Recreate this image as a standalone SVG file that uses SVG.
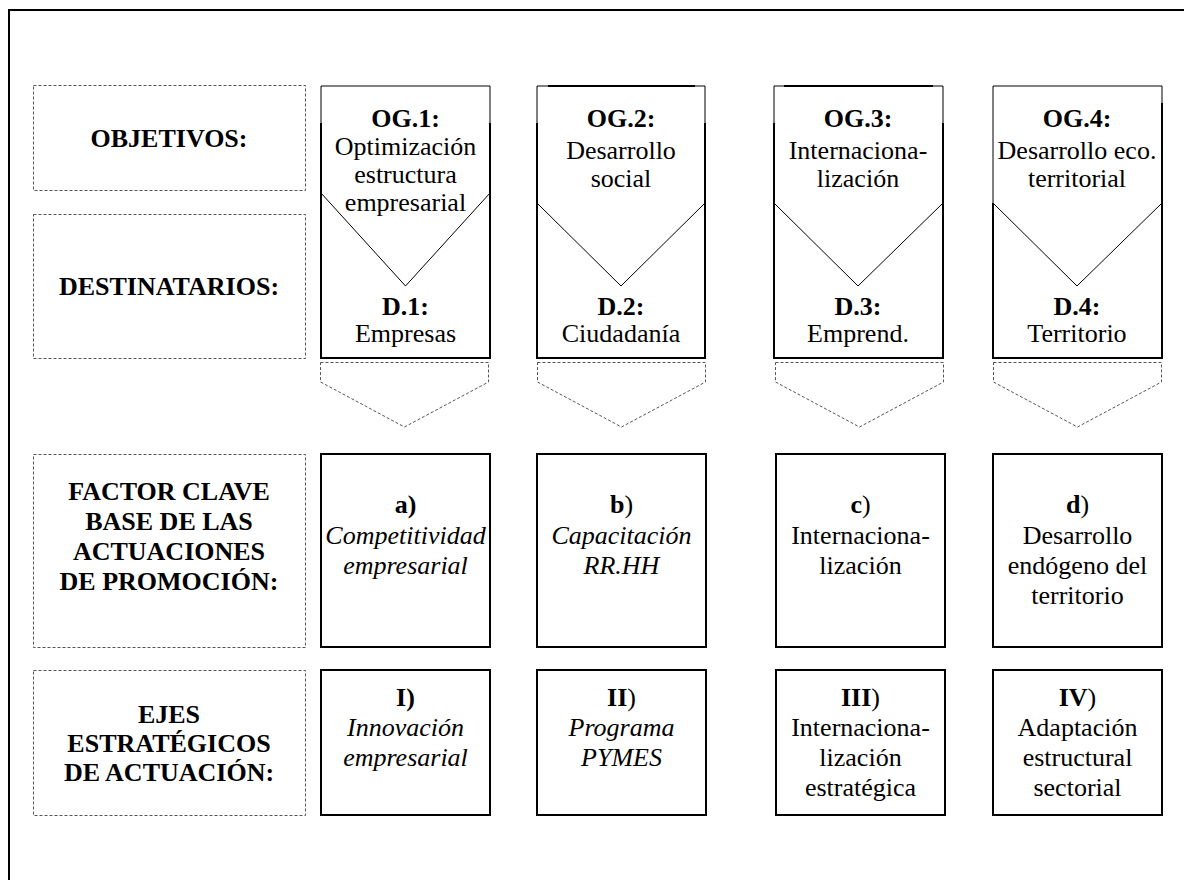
<svg xmlns="http://www.w3.org/2000/svg" width="1184" height="880" viewBox="0 0 1184 880" font-family="'Liberation Serif', 'Times New Roman', Tinos, 'DejaVu Serif', serif">
  <style>
    text { font-family: 'Liberation Serif', 'Times New Roman', Tinos, 'DejaVu Serif', serif; font-size: 26px; fill: #000; text-anchor: middle; }
    .b { font-weight: bold; }
    .i { font-style: italic; }
    .lbl { fill: none; stroke: #555; stroke-width: 1; stroke-dasharray: 3 2; }
    .box { fill: none; stroke: #000; stroke-width: 2; }
    .thin { fill: none; stroke: #000; stroke-width: 1; }
    .chev { fill: none; stroke: #555; stroke-width: 1; stroke-dasharray: 3 2; }
  </style>

  <rect x="0" y="0" width="1184" height="880" fill="#fff"/>
  <!-- page frame -->
  <rect x="9" y="10" width="1200" height="900" fill="none" stroke="#000" stroke-width="2"/>

  <!-- row labels -->
  <g id="label-objetivos">
    <rect class="lbl" x="33.5" y="85.5" width="272" height="105"/>
    <text class="b" x="169" y="147">OBJETIVOS:</text>
  </g>
  <g id="label-destinatarios">
    <rect class="lbl" x="33.5" y="214.5" width="272" height="144"/>
    <text class="b" x="169" y="295">DESTINATARIOS:</text>
  </g>
  <g id="label-factor">
    <rect class="lbl" x="33.5" y="454.5" width="272" height="193"/>
    <text class="b" x="169" y="500">FACTOR CLAVE</text>
    <text class="b" x="169" y="530">BASE DE LAS</text>
    <text class="b" x="169" y="560">ACTUACIONES</text>
    <text class="b" x="169" y="590">DE PROMOCIÓN:</text>
  </g>
  <g id="label-ejes">
    <rect class="lbl" x="33.5" y="670.5" width="272" height="145"/>
    <text class="b" x="169" y="723">EJES</text>
    <text class="b" x="169" y="752">ESTRATÉGICOS</text>
    <text class="b" x="169" y="781">DE ACTUACIÓN:</text>
  </g>

  <!-- objective / target columns -->
  <g id="col-1">
    <path class="box" d="M321,123 V358 H490 V123"/>
    <path class="thin" d="M321,86 H490 V193 L405.5,286 L321,193 Z"/>
    <text class="b" x="405.5" y="127">OG.1:</text>
    <text x="405.5" y="155">Optimización</text>
    <text x="405.5" y="183">estructura</text>
    <text x="405.5" y="211">empresarial</text>
    <text class="b" x="405.5" y="315">D.1:</text>
    <text x="405.5" y="342">Empresas</text>
  </g>
  <g id="col-2">
    <path class="box" d="M537,123 V358 H705 V123"/>
    <path class="thin" d="M537,86 H705 V203 L621,286 L537,203 Z"/>
    <path class="box" d="M548,86 H695"/>
    <text class="b" x="621" y="127">OG.2:</text>
    <text x="621" y="159">Desarrollo</text>
    <text x="621" y="187">social</text>
    <text class="b" x="621" y="315">D.2:</text>
    <text x="621" y="342">Ciudadanía</text>
  </g>
  <g id="col-3">
    <path class="box" d="M774,123 V358 H943 V123"/>
    <path class="thin" d="M774,86 H943 V203 L858,286 L774,203 Z"/>
    <path class="box" d="M784,86 H933"/>
    <text class="b" x="858" y="127">OG.3:</text>
    <text x="858" y="159">Internaciona-</text>
    <text x="858" y="187">lización</text>
    <text class="b" x="858" y="315">D.3:</text>
    <text x="858" y="342">Emprend.</text>
  </g>
  <g id="col-4">
    <path class="box" d="M993,203 V358 H1162 V103"/>
    <path class="thin" d="M993,86 H1162 V203 L1077,286 L993,203 Z"/>
    <text class="b" x="1077" y="127">OG.4:</text>
    <text x="1077" y="159">Desarrollo eco.</text>
    <text x="1077" y="187">territorial</text>
    <text class="b" x="1077" y="315">D.4:</text>
    <text x="1077" y="342">Territorio</text>
  </g>

  <!-- dashed downward arrows -->
  <g id="connectors">
    <path class="chev" d="M320.5,362.5 H488.5 V382 L404.5,427 L320.5,382 Z"/>
    <path class="chev" d="M537.5,362.5 H705.5 V382 L621.5,427 L537.5,382 Z"/>
    <path class="chev" d="M775.5,362.5 H943.5 V382 L859.5,427 L775.5,382 Z"/>
    <path class="chev" d="M993.5,362.5 H1161.5 V382 L1077.5,427 L993.5,382 Z"/>
  </g>

  <!-- key factors -->
  <g id="factor-a">
    <rect class="box" x="321" y="454" width="169" height="193"/>
    <text class="b" x="405.5" y="513">a)</text>
    <text class="i" x="405.5" y="544">Competitividad</text>
    <text class="i" x="405.5" y="574">empresarial</text>
  </g>
  <g id="factor-b">
    <rect class="box" x="537" y="454" width="169" height="193"/>
    <text x="621.5" y="513"><tspan class="b">b</tspan>)</text>
    <text class="i" x="621.5" y="544">Capacitación</text>
    <text class="i" x="621.5" y="574">RR.HH</text>
  </g>
  <g id="factor-c">
    <rect class="box" x="776" y="454" width="169" height="193"/>
    <text x="860.5" y="513"><tspan class="b">c</tspan>)</text>
    <text x="860.5" y="544">Internaciona-</text>
    <text x="860.5" y="574">lización</text>
  </g>
  <g id="factor-d">
    <rect class="box" x="993" y="454" width="169" height="193"/>
    <text x="1077.5" y="513"><tspan class="b">d</tspan>)</text>
    <text x="1077.5" y="544">Desarrollo</text>
    <text x="1077.5" y="574">endógeno del</text>
    <text x="1077.5" y="604">territorio</text>
  </g>

  <!-- strategic axes -->
  <g id="eje-1">
    <rect class="box" x="321" y="670" width="169" height="145"/>
    <text class="b" x="405.5" y="706">I)</text>
    <text class="i" x="405.5" y="736">Innovación</text>
    <text class="i" x="405.5" y="766">empresarial</text>
  </g>
  <g id="eje-2">
    <rect class="box" x="537" y="670" width="169" height="145"/>
    <text x="621.5" y="706"><tspan class="b">II</tspan>)</text>
    <text class="i" x="621.5" y="736">Programa</text>
    <text class="i" x="621.5" y="766">PYMES</text>
  </g>
  <g id="eje-3">
    <rect class="box" x="776" y="670" width="169" height="145"/>
    <text x="860.5" y="706"><tspan class="b">III</tspan>)</text>
    <text x="860.5" y="736">Internaciona-</text>
    <text x="860.5" y="766">lización</text>
    <text x="860.5" y="796">estratégica</text>
  </g>
  <g id="eje-4">
    <rect class="box" x="993" y="670" width="169" height="145"/>
    <text x="1077.5" y="706"><tspan class="b">IV</tspan>)</text>
    <text x="1077.5" y="736">Adaptación</text>
    <text x="1077.5" y="766">estructural</text>
    <text x="1077.5" y="796">sectorial</text>
  </g>
</svg>
